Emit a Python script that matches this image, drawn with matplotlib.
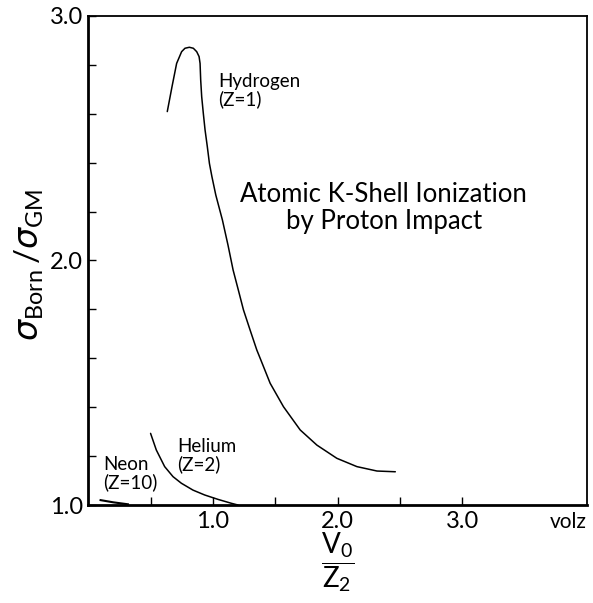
import numpy as np
import matplotlib
matplotlib.use("Agg")
import matplotlib.pyplot as plt
from matplotlib.ticker import FixedLocator

# values (V0/Z2, sigma_Born/sigma_GM)
h_x = [0.633, 0.671, 0.708, 0.748, 0.775, 0.810, 0.842, 0.869, 0.888, 0.896,
       0.901, 0.909, 0.922, 0.936, 0.954, 0.971, 0.991, 1.022, 1.075, 1.120,
       1.161, 1.203, 1.244, 1.297, 1.351, 1.378, 1.458, 1.565, 1.699, 1.833,
       1.993, 2.154, 2.315, 2.462]
h_y = [2.609, 2.711, 2.806, 2.854, 2.868, 2.872, 2.868, 2.854, 2.834, 2.806,
       2.738, 2.670, 2.602, 2.534, 2.466, 2.397, 2.343, 2.268, 2.166, 2.063,
       1.961, 1.879, 1.798, 1.716, 1.634, 1.600, 1.498, 1.402, 1.307, 1.245,
       1.191, 1.157, 1.139, 1.136]
he_x = [0.499, 0.545, 0.612, 0.679, 0.746, 0.839, 0.933, 1.040, 1.147, 1.20]
he_y = [1.293, 1.225, 1.157, 1.116, 1.089, 1.061, 1.041, 1.023, 1.007, 1.0]
ne_x = [0.098, 0.20, 0.317]
ne_y = [1.020, 1.011, 1.003]

x_labels = {1.0: "1.0", 2.0: "2.0", 3.0: "3.0"}
y_labels = {1.0: "1.0", 2.0: "2.0", 3.0: "3.0"}
x_minor = [0.5, 1.5, 2.5]
y_minor = [1.2, 1.4, 1.6, 1.8, 2.2, 2.4, 2.6, 2.8]

plt.rcParams['font.family'] = ['Lato', 'DejaVu Sans']
plt.rcParams['mathtext.fontset'] = 'dejavusans'
plt.rcParams['mathtext.default'] = 'regular'

fig = plt.figure(figsize=(5.93, 6.03), dpi=100)
ax = fig.add_axes([0.149, 0.1625, 0.841, 0.811])

kw = dict(color='black', lw=1.1, solid_joinstyle='round', solid_capstyle='round')
ax.plot(h_x, h_y, **kw)
ax.plot(he_x, he_y, **kw)
ax.plot(ne_x, ne_y, color='black', lw=1.5)

ax.set_xlim(0, 4.0)
ax.set_ylim(1.0, 3.0)

ax.xaxis.set_major_locator(FixedLocator(list(x_labels)))
ax.xaxis.set_minor_locator(FixedLocator(x_minor))
ax.set_xticklabels(list(x_labels.values()))
ax.yaxis.set_major_locator(FixedLocator(list(y_labels)))
ax.yaxis.set_minor_locator(FixedLocator(y_minor))
ax.set_yticklabels(list(y_labels.values()))

ax.tick_params(which='both', direction='in', length=6, width=1.0,
               labelsize=17, top=False, right=False)
ax.tick_params(axis='x', pad=4)
ax.tick_params(axis='y', pad=4)

for s in ['left', 'bottom']:
    ax.spines[s].set_linewidth(2.0)
for s in ['top', 'right']:
    ax.spines[s].set_linewidth(1.3)

ax.text(4.0, -0.035, "volz", transform=ax.get_xaxis_transform(),
        ha='right', va='center', fontsize=15)

lab = dict(ha='left', va='top', fontsize=13.5, linespacing=1.0)
ax.text(1.04, 2.765, "Hydrogen\n(Z=1)", **lab)
ax.text(0.71, 1.275, "Helium\n(Z=2)", **lab)
ax.text(0.12, 1.2, "Neon\n(Z=10)", **lab)

ax.text(2.37, 2.215, "Atomic K-Shell Ionization\nby Proton Impact",
        ha='center', va='center', multialignment='center',
        fontsize=18.5, linespacing=1.1)

fig.text(0.05, 0.56, r"$\mathit{\sigma}_{Born}\,/\mathit{\sigma}_{GM}$", rotation=90,
         ha='center', va='center', fontsize=24)
fig.text(0.569, 0.068, r"$\dfrac{V_0}{Z_2}$", ha='center', va='center',
         fontsize=20)

fig.savefig("out.png", dpi=100)
